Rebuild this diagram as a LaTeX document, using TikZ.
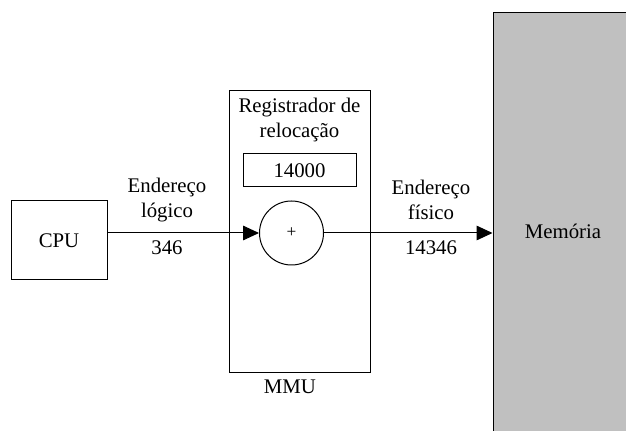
\documentclass[tikz,border=0pt]{standalone}
\usepackage{fontspec}
\setmainfont{Liberation Serif}
\usetikzlibrary{arrows.meta,positioning}
\definecolor{memgray}{RGB}{192,192,192}
\tikzset{
  caixa/.style={draw, line width=0.75pt, inner sep=0pt},
  rotulo/.style={inner sep=0.75pt, align=center, font=\fontsize{15.6}{18.75}\selectfont},
  seta/.style={line width=0.75pt, -{Triangle[length=12pt,width=11pt]}}
}
\begin{document}
\begin{tikzpicture}[x=0.75pt,y=0.75pt,yscale=-1,xscale=1]
\useasboundingbox (0,0) rectangle (626,431);

%Memoria (sai da pagina a direita e em baixo)
\node [caixa, rotulo, fill=memgray, minimum width=105pt, minimum height=327pt] (mem) at (563,231) {Memória};

%CPU
\node [caixa, rotulo, minimum width=72pt, minimum height=59.25pt] (cpu) at (59,240.5) {CPU};

%MMU
\node [caixa, minimum width=105.75pt, minimum height=211.5pt] (mmu) at (299.5,232) {};
\node [rotulo] (regtxt) at (299.5,120) {Registrador de\\relocação};
\node [caixa, rotulo, minimum width=84.75pt, minimum height=24.75pt] (reg) at (299.5,170.5) {14000};
\node [caixa, circle, minimum size=48pt, font=\fontsize{13}{15}\selectfont] (soma) at (291.5,233) {+};
\node [rotulo] (mmutxt) at (290,387) {MMU};

%Enderecos
\node [rotulo] (logico) at (167,200) {Endereço\\lógico};
\node [rotulo] (vlog) at (167,248) {346};
\node [rotulo] (fisico) at (431,200) {Endereço\\físico};
\node [rotulo] (vfis) at (431,248) {14346};

\draw [seta] (cpu.east |- soma.west) -- (soma.west);
\draw [seta] (soma.east) -- (mem.west |- soma.east);

\end{tikzpicture}
\end{document}
